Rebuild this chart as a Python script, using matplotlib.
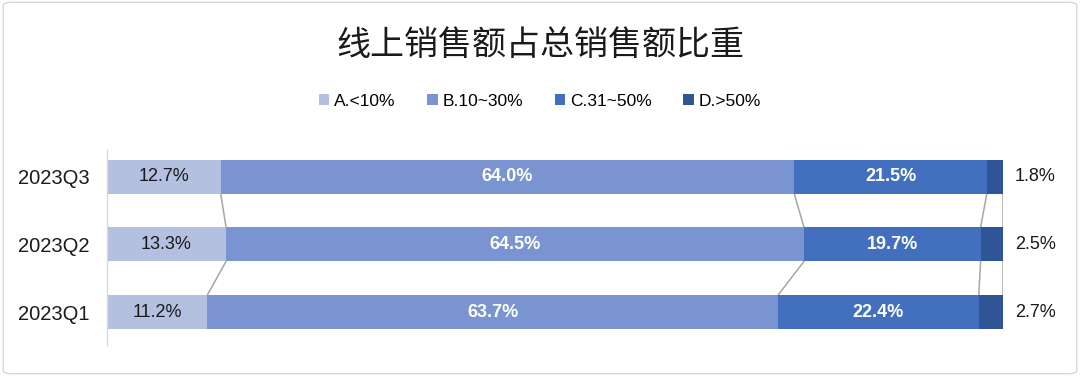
import matplotlib
matplotlib.use("Agg")
import matplotlib.pyplot as plt
import numpy as np
from matplotlib.patches import FancyBboxPatch

categories = ["2023Q1", "2023Q2", "2023Q3"]
series_names = ["A.<10%", "B.10~30%", "C.31~50%", "D.>50%"]
a_vals = [11.2, 13.3, 12.7]
b_vals = [63.7, 64.5, 64.0]
c_vals = [22.4, 19.7, 21.5]
d_vals = [2.7, 2.5, 1.8]
colors = ["#b4c0e0", "#7a94d2", "#4270be", "#2f5597"]
title = "线上销售额占总销售额比重"

plt.rcParams['font.family'] = ['Liberation Sans', 'Noto Sans CJK SC', 'DejaVu Sans']

fig = plt.figure(figsize=(10.8, 3.76), dpi=100)
fig.patches.append(FancyBboxPatch((0.003, 0.006), 0.994, 0.988, boxstyle="round,pad=0,rounding_size=0.008",
                                  transform=fig.transFigure, facecolor="white", edgecolor="#d9d9d9", lw=1, zorder=-1))
ax = fig.add_axes([0.099, 0.082, 0.8297, 0.52])
ax.set_facecolor("none")

y = np.arange(len(categories))
h = 0.5
series = [a_vals, b_vals, c_vals, d_vals]
left = np.zeros(len(categories))
cums = []
for i, (vals, col) in enumerate(zip(series, colors)):
    vals = np.array(vals)
    ax.barh(y, vals, left=left, height=h, color=col, edgecolor="none", label=series_names[i])
    for j, v in enumerate(vals):
        if i == 0:
            ax.text(left[j] + v / 2, y[j], f"{v:.1f}%", ha="center", va="center", fontsize=13, color="#1a1a1a")
        elif i in (1, 2):
            ax.text(left[j] + v / 2, y[j], f"{v:.1f}%", ha="center", va="center", fontsize=13,
                    color="white", fontweight="bold")
        else:
            ax.text(101.3, y[j], f"{v:.1f}%", ha="left", va="center", fontsize=13, color="#1a1a1a")
    left = left + vals
    cums.append(left.copy())

for cum in cums:
    for j in range(len(categories) - 1):
        ax.plot([cum[j], cum[j + 1]], [y[j] + h / 2, y[j + 1] - h / 2], color="#a6a6a6", lw=1.1, zorder=0)

ax.set_xlim(0, 100)
ax.set_ylim(-0.49, 2.4)
ax.set_yticks(y)
ax.set_yticklabels(categories, fontsize=14.5, color="#1a1a1a")
ax.set_xticks([])
ax.tick_params(axis="y", length=0, pad=12.5)
for s in ["top", "right", "bottom"]:
    ax.spines[s].set_visible(False)
ax.spines["left"].set_color("#d9d9d9")
ax.spines["left"].set_linewidth(1)

fig.text(0.5, 0.88, title, ha="center", va="center", fontsize=24.5, color="#1a1a1a",
         family=['Noto Sans CJK SC', 'DejaVu Sans'])
handles, labels = ax.get_legend_handles_labels()
fig.legend(handles, labels, loc="center", bbox_to_anchor=(0.5, 0.73), ncol=4, frameon=False,
           fontsize=12.5, handlelength=0.6, handleheight=0.6, handletextpad=0.3, columnspacing=1.8)

fig.savefig("out.png", dpi=100)
